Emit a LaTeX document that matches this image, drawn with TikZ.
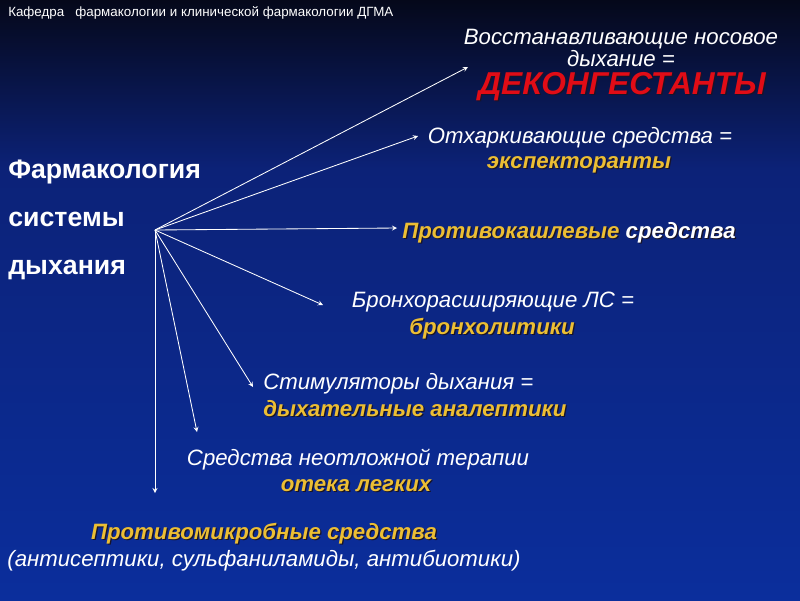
\documentclass[tikz,border=0pt]{standalone}
\usepackage{fontspec}
\setmainfont{Liberation Sans}
\usetikzlibrary{arrows,positioning}

\definecolor{bgtop}{RGB}{5,8,26}
\definecolor{bgmid}{RGB}{12,34,120}
\definecolor{bgbot}{RGB}{11,46,156}
\definecolor{goldtxt}{RGB}{236,190,52}
\definecolor{redtxt}{RGB}{225,12,22}
\definecolor{shadowtxt}{RGB}{25,20,40}

% text with a dark drop shadow (\tcol switches colour, not in the shadow)
\newcommand{\tcol}[1]{\color{#1}}
\newcommand{\shtext}[2]{\leavevmode\rlap{\kern0.9pt\raisebox{-0.9pt}{\renewcommand{\tcol}[1]{}\color{shadowtxt}#2}}{\color{#1}#2}}

\begin{document}
\begin{tikzpicture}[
    x=0.025cm, y=-0.025cm,
    plain/.style={text=white, inner sep=0pt, align=center, font=\itshape\fontsize{15.8}{15}\selectfont},
    hl/.style={inner sep=0pt, align=center, font=\bfseries\itshape\fontsize{15.8}{15}\selectfont},
    arrow/.style={->,>=stealth,white,line width=0.6pt}
]

% Background
\shade[top color=bgtop, bottom color=bgmid] (0,0) rectangle (800,170);
\shade[top color=bgmid, bottom color=bgbot] (0,170) rectangle (800,600);

% Header and title
\node[anchor=west, text=white, inner sep=0pt, font=\fontsize{9.5}{11}\selectfont] (dept) at (8,13) {Кафедра\ \ \ фармакологии и клинической фармакологии ДГМА};
\node[anchor=west, text=white, inner sep=0pt, align=left, font=\bfseries\fontsize{19}{34}\selectfont] (title) at (8,220) {Фармакология\\системы\\дыхания};

% Hub
\coordinate (hub) at (155,230);

% Groups of drugs
\node[plain] (nasal) at (621,48) {Восстанавливающие носовое\\дыхание =};
\node[hl, font=\bfseries\itshape\fontsize{22.5}{24}\selectfont] (decon) at (622,87) {\shtext{redtxt}{ДЕКОНГЕСТАНТЫ}};
\node[plain] (expect) at (580,138) {Отхаркивающие средства =};
\node[hl] (expectb) at (579,165) {\shtext{goldtxt}{экспекторанты}};
\node[hl] (cough) at (569,233) {\shtext{goldtxt}{Противокашлевые \tcol{white}средства}};
\node[plain] (broncho) at (493,302) {Бронхорасширяющие ЛС =};
\node[hl] (bronchob) at (492,329) {\shtext{goldtxt}{бронхолитики}};
\node[plain, anchor=west] (stim) at (263,384) {Стимуляторы дыхания =};
\node[hl, anchor=west] (stimb) at (263,409) {\shtext{goldtxt}{дыхательные аналептики}};
\node[plain] (edema) at (358,460) {Средства неотложной терапии};
\node[hl] (edemab) at (356,486) {\shtext{goldtxt}{отека легких}};
\node[hl] (micro) at (264,534) {\shtext{goldtxt}{Противомикробные средства}};
\node[plain] (microb) at (264,561) {(антисептики, сульфаниламиды, антибиотики)};

% Arrow ends
\coordinate (t1) at (468,67);
\coordinate (t2) at (418,136);
\coordinate (t3) at (397,228);
\coordinate (t4) at (323,305);
\coordinate (t5) at (253,387);
\coordinate (t6) at (197,432);
\coordinate (t7) at (155,493);

% Connections
\foreach \t in {t1,t2,t3,t4,t5,t6,t7}
    \draw[arrow] (hub) -- (\t);

\end{tikzpicture}
\end{document}
